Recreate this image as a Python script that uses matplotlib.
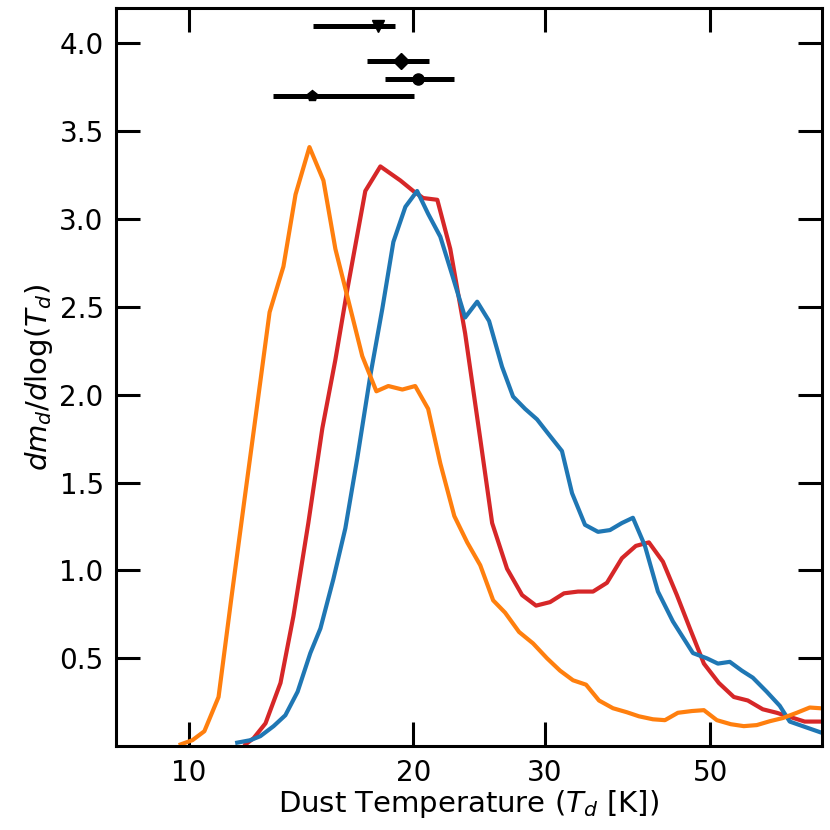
import matplotlib
matplotlib.use("Agg")
import matplotlib.pyplot as plt
from matplotlib.ticker import NullLocator

# --- curves (T in K, dm/dlogT) ---
temp_red = [11.92, 12.22, 12.68, 13.28, 13.82, 14.47, 15.11, 15.73, 16.32, 17.25,
            18.07, 19.22, 20.00, 20.62, 21.54, 22.42, 23.47, 24.59, 25.51, 26.71,
            27.98, 29.21, 30.50, 31.84, 33.25, 34.82, 36.35, 38.07, 39.74, 41.37,
            43.20, 45.10, 46.95, 49.02, 51.33, 53.76, 56.13, 58.78, 61.37, 64.07,
            66.90, 70.10]
dm_red = [0.01, 0.045, 0.13, 0.36, 0.74, 1.27, 1.81, 2.20, 2.60, 3.16,
          3.30, 3.22, 3.16, 3.12, 3.11, 2.83, 2.35, 1.75, 1.27, 1.01,
          0.86, 0.80, 0.82, 0.87, 0.88, 0.88, 0.93, 1.07, 1.14, 1.16,
          1.05, 0.86, 0.67, 0.47, 0.36, 0.28, 0.26, 0.21, 0.19, 0.165,
          0.14, 0.14]

temp_blue = [11.62, 12.10, 12.48, 13.00, 13.48, 14.00, 14.56, 15.02, 15.63, 16.22,
             16.83, 17.52, 18.18, 18.81, 19.52, 20.24, 20.94, 21.74, 22.56, 23.47,
             24.36, 25.27, 26.30, 27.21, 28.24, 29.30, 30.31, 31.64, 32.64, 33.97,
             35.36, 36.69, 38.06, 39.38, 40.87, 42.54, 44.55, 47.39, 49.47, 51.18,
             53.10, 55.10, 57.00, 59.50, 61.94, 63.88, 66.90, 70.10]
dm_blue = [0.02, 0.034, 0.057, 0.114, 0.176, 0.31, 0.53, 0.67, 0.95, 1.24,
           1.64, 2.11, 2.49, 2.87, 3.07, 3.16, 3.03, 2.90, 2.68, 2.44,
           2.53, 2.42, 2.16, 1.99, 1.92, 1.86, 1.78, 1.68, 1.44, 1.26,
           1.22, 1.23, 1.27, 1.30, 1.14, 0.88, 0.71, 0.53, 0.50, 0.47,
           0.48, 0.43, 0.39, 0.31, 0.23, 0.14, 0.11, 0.08]

temp_orange = [9.76, 10.12, 10.50, 10.97, 11.41, 11.88, 12.33, 12.84, 13.40, 13.91,
               14.52, 15.16, 15.73, 16.32, 17.09, 17.85, 18.52, 19.34, 20.12, 20.94,
               21.74, 22.70, 23.62, 24.59, 25.59, 26.55, 27.72, 28.94, 30.22, 31.45,
               32.74, 34.08, 35.47, 37.03, 38.66, 40.12, 41.89, 43.47, 45.24, 47.24,
               49.02, 51.02, 53.27, 55.44, 57.71, 60.07, 62.52, 65.28, 67.95, 70.10]
dm_orange = [0.01, 0.034, 0.085, 0.28, 0.84, 1.40, 1.91, 2.47, 2.73, 3.14,
             3.41, 3.22, 2.83, 2.56, 2.22, 2.02, 2.05, 2.03, 2.05, 1.92,
             1.61, 1.31, 1.16, 1.03, 0.83, 0.76, 0.65, 0.585, 0.50, 0.43,
             0.375, 0.35, 0.26, 0.216, 0.193, 0.17, 0.153, 0.148, 0.19, 0.20,
             0.205, 0.148, 0.125, 0.114, 0.12, 0.142, 0.16, 0.19, 0.22, 0.216]

# --- literature estimates shown as error bars ---
pt_temp = [17.96, 19.27, 20.31, 14.65]
pt_lo = [14.69, 17.36, 18.35, 12.99]
pt_hi = [18.92, 21.01, 22.69, 20.06]
pt_y = [4.1, 3.9, 3.8, 3.7]
pt_marker = ['v', 'D', 'o', 'p']

x_ticks = [10, 20, 30, 50]
y_ticks = [0.5, 1.0, 1.5, 2.0, 2.5, 3.0, 3.5, 4.0]

fig = plt.figure(figsize=(8.3, 8.3), dpi=100)
ax = fig.add_axes([0.14, 0.101, 0.85, 0.889])

ax.plot(temp_red, dm_red, color='#d62728', lw=3)
ax.plot(temp_blue, dm_blue, color='#1f77b4', lw=3)
ax.plot(temp_orange, dm_orange, color='#ff7f0e', lw=3)

for t, lo, hi, yv, m in zip(pt_temp, pt_lo, pt_hi, pt_y, pt_marker):
    ax.errorbar([t], [yv], xerr=[[t - lo], [hi - t]], fmt=m, color='k',
                ms=8, elinewidth=3.6, capsize=0)

ax.set_xscale('log')
ax.set_xlim(8.0, 70.5)
ax.set_ylim(0, 4.2)
ax.set_xticks(x_ticks)
ax.set_xticklabels([str(v) for v in x_ticks])
ax.xaxis.set_minor_locator(NullLocator())
ax.set_yticks(y_ticks)
ax.set_yticklabels([f'{v:.1f}' for v in y_ticks])

ax.tick_params(direction='in', length=17, width=2.2, labelsize=20,
               top=True, right=True, pad=9)
for s in ax.spines.values():
    s.set_linewidth(2.2)

ax.set_xlabel('Dust Temperature ($T_d$ [K])', fontsize=21, labelpad=1)
ax.set_ylabel(r'$dm_d/d\log(T_d)$', fontsize=21, labelpad=3)

fig.savefig('out.png', dpi=100)
